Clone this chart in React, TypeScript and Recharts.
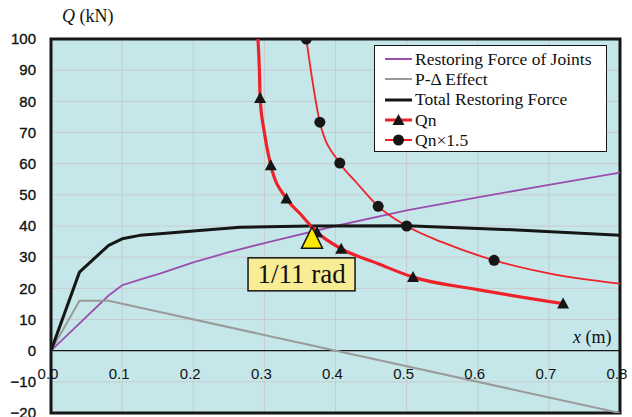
import { ComposedChart, Line, XAxis, YAxis, CartesianGrid, ReferenceLine, ReferenceDot, ReferenceArea } from "recharts";

const xTicks = [0, 0.1, 0.2, 0.3, 0.4, 0.5, 0.6, 0.7, 0.8];
const yTicks = [-20, -10, 0, 10, 20, 30, 40, 50, 60, 70, 80, 90, 100];

// restoring force of joints
const jointX = [0, 0.081, 0.1, 0.125, 0.153, 0.2, 0.25, 0.31, 0.4, 0.5, 0.6, 0.7, 0.8];
const jointQ = [0, 17.7, 21, 22.8, 24.7, 28.3, 31.6, 35.1, 40, 45, 49.2, 53.2, 57.1];

// P-delta effect
const pdX = [0, 0.04, 0.081, 0.8];
const pdQ = [0, 16, 16, -20];

// total restoring force
const totalX = [0, 0.04, 0.081, 0.1, 0.125, 0.153, 0.2, 0.266, 0.364, 0.5, 0.648, 0.8];
const totalQ = [0, 25.2, 33.8, 35.9, 37, 37.5, 38.4, 39.6, 40, 40.1, 38.8, 37];

// Qn curve and its markers
const qnX = [0.291, 0.293, 0.294, 0.3, 0.309, 0.331, 0.35, 0.374, 0.408, 0.46, 0.509, 0.6, 0.72];
const qnQ = [100, 90, 81.1, 70, 59.5, 48.8, 44, 38, 32.7, 27.9, 23.6, 19.6, 15.1];
const qnMarkX = [0.294, 0.309, 0.331, 0.374, 0.408, 0.509, 0.72];
const qnMarkQ = [81.1, 59.5, 48.8, 38, 32.7, 23.6, 15.1];

// Qn x 1.5 curve and its markers
const qn15X = [0.359, 0.368, 0.378, 0.406, 0.43, 0.46, 0.5, 0.55, 0.623, 0.7, 0.8];
const qn15Q = [100, 86, 73.3, 60.2, 53.8, 46.3, 40, 34.8, 29, 24.8, 21.5];
const qn15MarkX = [0.359, 0.378, 0.406, 0.46, 0.5, 0.623];
const qn15MarkQ = [100, 73.3, 60.2, 46.3, 40, 29];

// 1/11 rad annotation
const radX = 0.367;
const radQ = 36.2;
const radLabel = "1/11 rad";

const pts = (xs: number[], ys: number[]) => xs.map((x, i) => ({ x, y: ys[i] }));

const serif = "'Liberation Serif', 'Times New Roman', serif";
const sans = "'Liberation Sans', Arial, sans-serif";

const RED = "#EE2229";
const PURPLE = "#9A4EAE";
const GRAY = "#9A9A9A";
const BLACK = "#161616";

const XTick = (props: any) => {
  const { x, y, payload } = props;
  return (
    <text x={x - 3} y={y - 34} textAnchor="middle" fontSize={15} fontFamily={sans} fill="#111">
      {Number(payload.value).toFixed(1)}
    </text>
  );
};

const fmtY = (v: number) => (v < 0 ? `\u2212${-v}` : `${v}`);

const triDot = (p: any) => (
  <polygon
    key={`t${p.index}`}
    points={`${p.cx},${p.cy - 6} ${p.cx - 6},${p.cy + 5} ${p.cx + 6},${p.cy + 5}`}
    fill={BLACK}
  />
);

const circDot = (p: any) => <circle key={`c${p.index}`} cx={p.cx} cy={p.cy} r={5.5} fill={BLACK} />;

const RadMark = (p: any) => {
  const { cx, cy } = p;
  return (
    <g>
      <polygon
        points={`${cx},${cy - 11} ${cx - 10.5},${cy + 10.5} ${cx + 10.5},${cy + 10.5}`}
        fill="#FFE800"
        stroke={BLACK}
        strokeWidth={1.5}
      />
      <rect x={cx - 64} y={cy + 20} width={107} height={33} fill="#F8EC94" stroke={BLACK} strokeWidth={1.5} />
      <text x={cx - 10.5} y={cy + 45} textAnchor="middle" fontSize={27} fontFamily={serif} fill="#111">
        {radLabel}
      </text>
    </g>
  );
};

const legendItems = [
  { name: "Restoring Force of Joints", color: PURPLE, width: 2, marker: "" },
  { name: "P-\u0394 Effect", color: GRAY, width: 2, marker: "" },
  { name: "Total Restoring Force", color: BLACK, width: 3, marker: "" },
  { name: "Qn", color: RED, width: 3, marker: "tri" },
  { name: "Qn\u00d71.5", color: RED, width: 2, marker: "circ" },
];

export default function App() {
  return (
    <div style={{ position: "absolute", left: 0, top: 0, width: 632, height: 417, background: "#fff" }}>
      <ComposedChart width={632} height={417} margin={{ top: 39, right: 12, left: 0, bottom: 3 }}>
        <CartesianGrid fill="#C5E7EA" fillOpacity={1} stroke="#C8CBCC" strokeWidth={1} />
        <XAxis
          type="number"
          dataKey="x"
          domain={[0, 0.8]}
          ticks={xTicks}
          interval={0}
          allowDataOverflow
          height={1}
          axisLine={false}
          tickLine={false}
          tickSize={0}
          tickMargin={0}
          tick={<XTick />}
        />
        <YAxis
          type="number"
          dataKey="y"
          domain={[-20, 100]}
          ticks={yTicks}
          interval={0}
          allowDataOverflow
          width={51}
          axisLine={false}
          tickLine={false}
          tickSize={0}
          tickMargin={15}
          tickFormatter={fmtY}
          tick={{ fontSize: 15, fill: "#111", fontFamily: sans, stroke: "#111", strokeWidth: 0.35 }}
        />
        <ReferenceLine y={0} stroke={BLACK} strokeWidth={1.3} />
        <Line data={pts(jointX, jointQ)} dataKey="y" type="linear" stroke={PURPLE} strokeWidth={1.8} dot={false} isAnimationActive={false} />
        <Line data={pts(pdX, pdQ)} dataKey="y" type="linear" stroke={GRAY} strokeWidth={2} dot={false} isAnimationActive={false} />
        <Line data={pts(totalX, totalQ)} dataKey="y" type="linear" stroke={BLACK} strokeWidth={3} strokeLinejoin="round" dot={false} isAnimationActive={false} />
        <Line data={pts(qn15X, qn15Q)} dataKey="y" type="monotone" stroke={RED} strokeWidth={1.8} dot={false} isAnimationActive={false} />
        <Line data={pts(qnX, qnQ)} dataKey="y" type="monotone" stroke={RED} strokeWidth={3.2} dot={false} isAnimationActive={false} />
        <Line data={pts(qn15MarkX, qn15MarkQ)} dataKey="y" stroke="none" dot={circDot} isAnimationActive={false} />
        <Line data={pts(qnMarkX, qnMarkQ)} dataKey="y" stroke="none" dot={triDot} isAnimationActive={false} />
        <ReferenceDot x={radX} y={radQ} r={0} shape={<RadMark />} />
        <ReferenceArea x1={0} x2={0.8} y1={-20} y2={100} fill="none" stroke={BLACK} strokeWidth={3} />
      </ComposedChart>

      <div style={{ position: "absolute", left: 62, top: 6, fontFamily: serif, fontSize: 18, color: "#111", whiteSpace: "nowrap" }}>
        <i>Q</i> (kN)
      </div>
      <div style={{ position: "absolute", left: 573, top: 327, fontFamily: serif, fontSize: 18, color: "#111", whiteSpace: "nowrap" }}>
        <i>x</i> (m)
      </div>

      <div
        style={{
          position: "absolute",
          left: 374,
          top: 45,
          width: 233,
          height: 107,
          background: "#fff",
          border: `1.5px solid ${BLACK}`,
          fontFamily: serif,
          fontSize: 17.5,
          color: "#111",
          paddingTop: 3,
          boxSizing: "border-box",
        }}
      >
        {legendItems.map((it) => (
          <div key={it.name} style={{ display: "flex", alignItems: "center", height: 20.3, whiteSpace: "nowrap" }}>
            <svg width={40} height={16} style={{ flex: "none" }}>
              <line x1={10} y1={8} x2={37} y2={8} stroke={it.color} strokeWidth={it.width} />
              {it.marker === "tri" && <polygon points="23.5,2 17.5,13 29.5,13" fill={BLACK} />}
              {it.marker === "circ" && <circle cx={23.5} cy={8} r={5.5} fill={BLACK} />}
            </svg>
            <span>{it.name}</span>
          </div>
        ))}
      </div>
    </div>
  );
}
